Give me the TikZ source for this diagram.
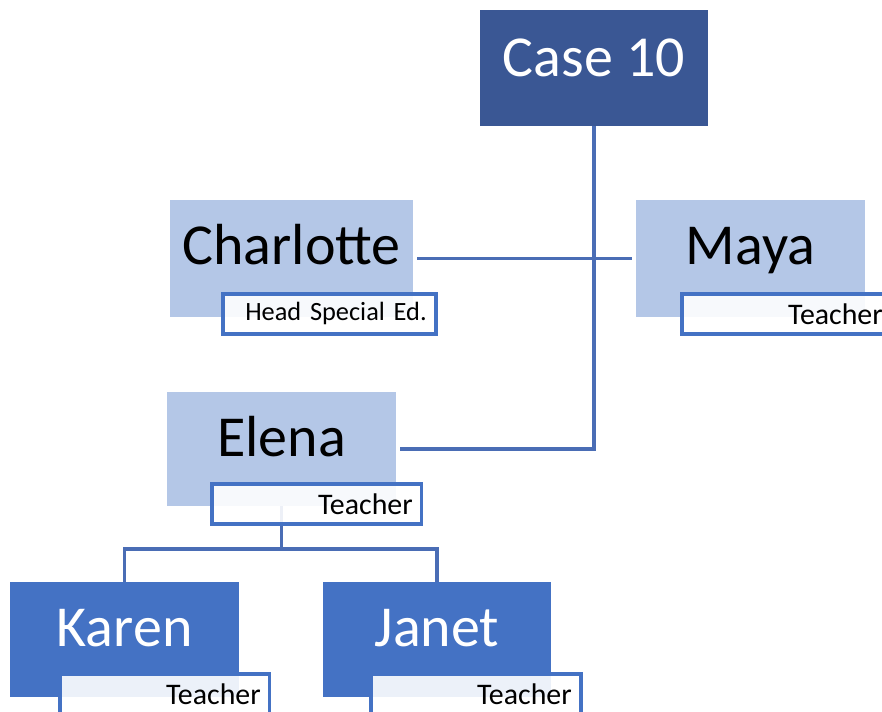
\documentclass[tikz,border=0pt]{standalone}
\usepackage{fontspec}
\setmainfont{Carlito}
\usetikzlibrary{calc}
\definecolor{casecol}{HTML}{3A5794}
\definecolor{kidcol}{HTML}{4472C4}
\definecolor{staffcol}{HTML}{B4C7E7}
\definecolor{linkcol}{HTML}{4A6DB5}
\tikzset{
	namebox/.style={rectangle, inner sep=0pt, outer sep=0pt, minimum width=4.58cm, minimum height=2.3cm},
	nametext/.style={anchor=base, inner sep=0pt, font=\fontsize{33}{36}\selectfont},
	rolebox/.style={rectangle, draw=kidcol, line width=2pt, fill=white, fill opacity=0.9, text opacity=1,
		anchor=north west, minimum height=0.8cm, text width=3.84cm, align=right,
		inner xsep=0.18cm, inner ysep=0pt, font=\fontsize{17}{20}\selectfont},
	link/.style={draw=linkcol, line width=2.1pt},
}

\begin{document}
\begin{tikzpicture}[x=0.02cm, y=-0.02cm]
			%%%%% START %%%%%
			\clip (0,0) rectangle (882,711);
			
			% boxes
			\node[namebox, fill=casecol, minimum width=4.56cm, minimum height=2.32cm] (case) at (594,68) {};
			\node[namebox, fill=staffcol, minimum width=4.86cm, minimum height=2.34cm] (charlotte) at (291.5,258.5) {};
			\node[namebox, fill=staffcol, minimum height=2.34cm] (maya) at (750.5,258.5) {};
			\node[namebox, fill=staffcol, minimum height=2.28cm] (elena) at (281.5,449) {};
			\node[namebox, fill=kidcol] (karen) at (124.5,639.5) {};
			\node[namebox, fill=kidcol, minimum width=4.56cm] (janet) at (437,639.5) {};
			
			% links
			\draw[link, shorten >=2.5pt] (case.south) |- (elena.east);
			\draw[link, shorten <=2.5pt, shorten >=2.5pt] (charlotte.east) -- (maya.west);
			\coordinate (fork) at ($(elena.south)+(0,43)$);
			\draw[link] (elena.south) -- (fork) -| (karen.north);
			\draw[link] (fork) -| (janet.north);
			
			% roles
			\node[rolebox, text width=3.9cm, font=\fontsize{15}{18}\selectfont] (charlotterole) at ($(charlotte.south west)+(51,-25)$) {Head Special Ed.};
			\node[rolebox] (mayarole) at ($(maya.south west)+(44,-25)$) {Teacher};
			\node[rolebox] (elenarole) at ($(elena.south west)+(43,-24)$) {Teacher};
			\node[rolebox] (karenrole) at ($(karen.south west)+(48,-25)$) {Teacher};
			\node[rolebox] (janetrole) at ($(janet.south west)+(46,-25)$) {Teacher};
			
			% names
			\node[nametext, text=white] (casename) at ($(case.north)+(0,66)$) {Case 10};
			\node[nametext] (charlottename) at ($(charlotte.north)+(0,64)$) {Charlotte};
			\node[nametext] (mayaname) at ($(maya.north)+(0,64)$) {Maya};
			\node[nametext] (elenaname) at ($(elena.north)+(0,64)$) {Elena};
			\node[nametext, text=white] (karenname) at ($(karen.north)+(0,64)$) {Karen};
			\node[nametext, text=white] (janetname) at ($(janet.north)+(0,64)$) {Janet};
			
			%%%%% END %%%%%
\end{tikzpicture}
\end{document}
